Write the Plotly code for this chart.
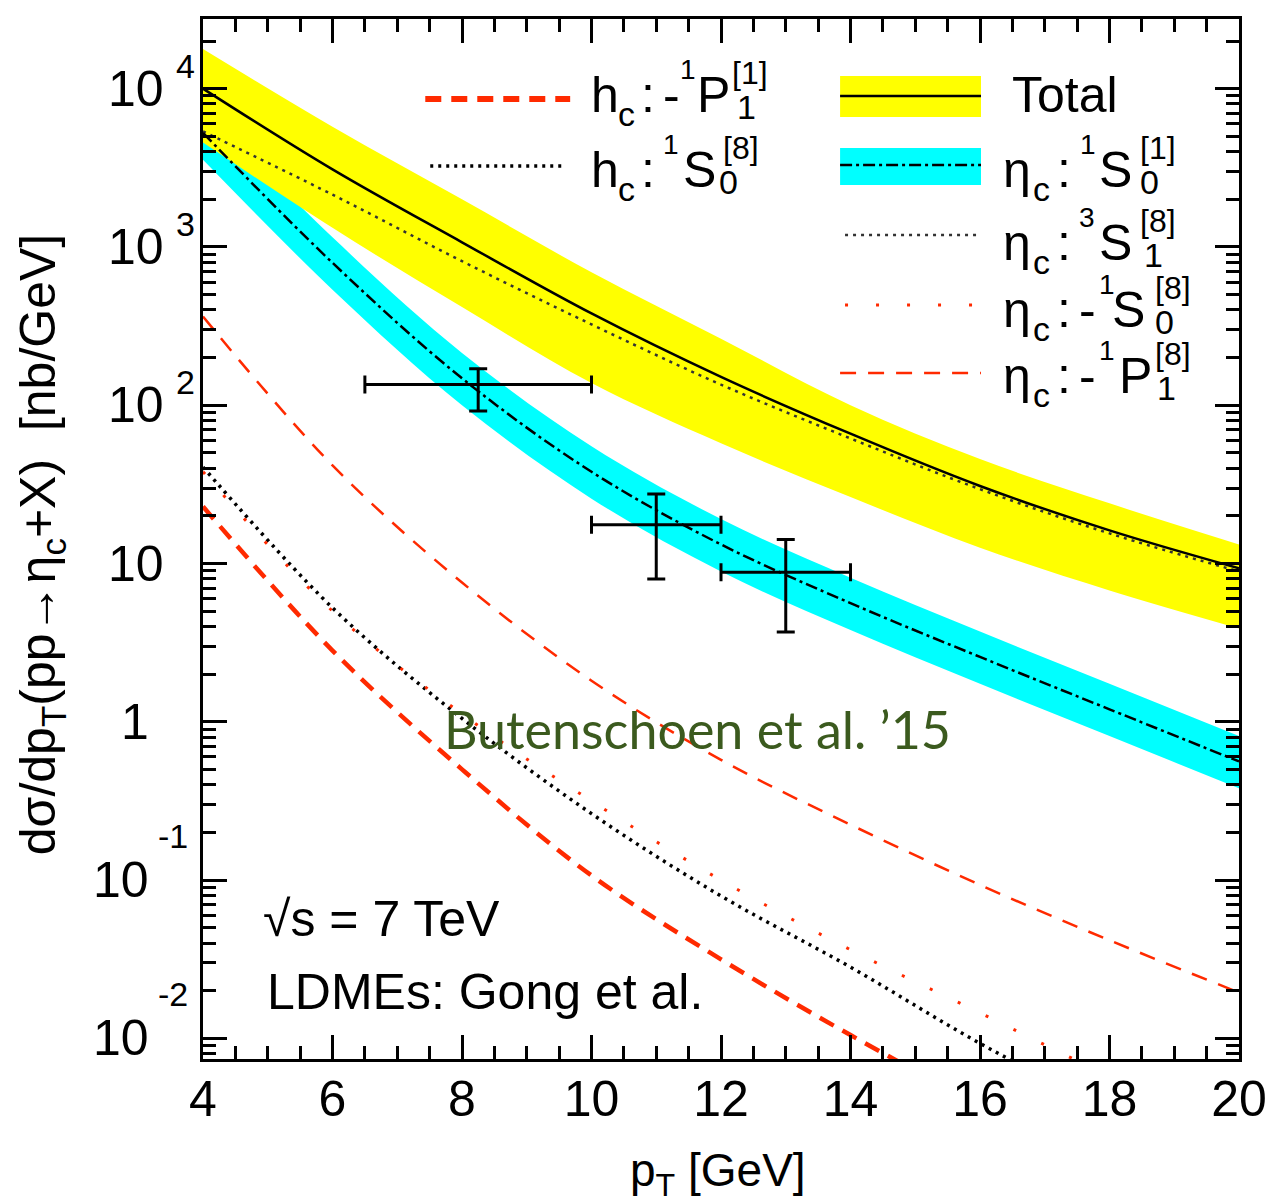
import math
import plotly.graph_objects as go

# ---------------- data ----------------
pt = [4, 6, 8, 10, 12, 14, 16, 18, 20]

total = [10000, 3090, 1070, 380, 151, 66.1, 30.9, 16.2, 9.33]
total_hi = [17800, 5750, 2000, 692, 263, 100, 45.7, 24.0, 13.2]
total_lo = [4570, 1320, 417, 138, 57.5, 26.3, 12.6, 6.76, 3.89]

etac_1s0_1 = [5250, 794, 148, 38.0, 13.2, 5.62, 2.57, 1.20, 0.562]
etac_1s0_1_hi = [7590, 1150, 214, 55.0, 19.1, 8.13, 3.72, 1.74, 0.813]
etac_1s0_1_lo = [3550, 537, 100, 25.7, 8.91, 3.80, 1.74, 0.813, 0.380]

etac_3s1_8 = [5370, 2140, 813, 324, 135, 61.7, 29.5, 15.5, 8.91]
etac_1s0_8_neg = [38.0, 5.01, 1.12, 0.316, 0.100, 0.0363, 0.0145, 0.00575, 0.0024]
etac_1p1_8_neg = [363, 41.7, 7.59, 1.82, 0.575, 0.224, 0.0933, 0.0417, 0.0195]
hc_1p1_1_neg = [22.9, 2.82, 0.501, 0.107, 0.0316, 0.0105, 0.0038, 0.0015, 0.00063]
hc_1s0_8 = [40.7, 5.25, 1.05, 0.263, 0.0794, 0.0282, 0.0093, 0.0035, 0.0014]

data_pt = [8.25, 11.0, 13.0]
data_pt_err = [1.75, 1.0, 1.0]
data_y = [135, 17.6, 8.8]
data_y_up = [35, 9.9, 5.4]
data_y_dn = [43, 9.6, 5.1]

ytick_vals = [1e-2, 1e-1, 1, 10, 1e2, 1e3, 1e4]
ytick_base = ["10", "10", "1", "10", "10", "10", "10"]
ytick_exp = ["-2", "-1", "", "", "2", "3", "4"]
ymin_minor = [m * 10.0 ** e for e in range(-3, 5) for m in range(2, 10)]

# ---------------- style ----------------
W, H = 1279, 1201
L, R, T, B = 203, 32, 19, 142
PW, PH = W - L - R, H - T - B
SANS = "Liberation Sans"
RED = "#ff2a00"
YEL = "#ffff00"
CYA = "#00ffff"


def px(x):
    return (x - L) / PW


def py(y):
    return (H - B - y) / PH


fig = go.Figure()


def band(lo, hi, color):
    fig.add_trace(go.Scatter(x=pt, y=lo, mode="lines", showlegend=False,
                             line=dict(width=0, shape="spline"), hoverinfo="skip"))
    fig.add_trace(go.Scatter(x=pt, y=hi, mode="lines", showlegend=False,
                             line=dict(width=0, shape="spline"), fill="tonexty",
                             fillcolor=color, hoverinfo="skip"))


def curve(y, color, width, dash):
    fig.add_trace(go.Scatter(x=pt, y=y, mode="lines", showlegend=False,
                             line=dict(color=color, width=width, dash=dash,
                                       shape="spline", smoothing=1.0)))


STY = {
    "hc_p1": (RED, 4.5, "16px,10px"),
    "hc_s1": ("black", 3.5, "3px,5px"),
    "et_s0_8": (RED, 3, "3px,28px"),
    "et_p1_8": (RED, 2.5, "16px,12px"),
    "et_s1_8": ("#333333", 2.5, "3px,5px"),
    "et_s0_1": ("black", 2.5, "12px,4px,3px,4px"),
    "total": ("black", 2.5, "solid"),
}

band(etac_1s0_1_lo, etac_1s0_1_hi, CYA)
band(total_lo, total_hi, YEL)
curve(hc_1p1_1_neg, *STY["hc_p1"])
curve(hc_1s0_8, *STY["hc_s1"])
curve(etac_1s0_8_neg, *STY["et_s0_8"])
curve(etac_1p1_8_neg, *STY["et_p1_8"])
curve(etac_3s1_8, *STY["et_s1_8"])
curve(etac_1s0_1, *STY["et_s0_1"])
curve(total, *STY["total"])

fig.add_trace(go.Scatter(
    x=data_pt, y=data_y, mode="markers", showlegend=False,
    marker=dict(size=1, color="black"),
    error_x=dict(type="data", array=data_pt_err, color="black", thickness=3, width=9),
    error_y=dict(type="data", symmetric=False, array=data_y_up, arrayminus=data_y_dn,
                 color="black", thickness=3, width=9)))

axis_common = dict(ticks="inside", ticklen=24, tickwidth=2.5, tickcolor="black",
                   showline=True, linewidth=3, linecolor="black", mirror="allticks",
                   showgrid=False, zeroline=False,
                   tickfont=dict(family=SANS, size=50, color="black"))

fig.update_xaxes(range=[4, 20], dtick=2, tick0=4, ticklabelstandoff=-6,
                 minor=dict(ticks="inside", ticklen=13, tickwidth=2.5, tickcolor="black",
                            dtick=0.5, tick0=4, showgrid=False),
                 **axis_common)
fig.update_yaxes(type="log", range=[-2.13, 4.44], tickmode="array",
                 tickvals=ytick_vals, showticklabels=False,
                 minor=dict(ticks="inside", ticklen=13, tickwidth=2.5, tickcolor="black",
                            tickmode="array", tickvals=ymin_minor, showgrid=False),
                 **axis_common)

# y tick labels in the ROOT style: base and raised exponent
for v, base, ex in zip(ytick_vals, ytick_base, ytick_exp):
    neg = ex.startswith("-")
    right = 150 if (neg or base == "1") else 165
    fig.add_annotation(text=base, xref="paper", yref="y", x=px(right), y=math.log10(v),
                       xanchor="right", yanchor="middle", showarrow=False, borderpad=0,
                       font=dict(family=SANS, size=50, color="black"))
    if ex:
        fig.add_annotation(text=ex, xref="paper", yref="y",
                           x=px(157 if neg else 175), y=math.log10(v),
                           yshift=44 if neg else 23,
                           xanchor="left", yanchor="middle", showarrow=False, borderpad=0,
                           font=dict(family=SANS, size=34, color="black"))

# ---------------- legend (drawn by hand, two columns) ----------------
shapes = []


def sample_line(x0, x1, y, key, width=None):
    c, w, d = STY[key]
    shapes.append(dict(type="line", xref="paper", yref="paper",
                       x0=px(x0), x1=px(x1), y0=py(y), y1=py(y),
                       line=dict(color=c, width=width or w, dash=d)))


def sample_rect(x0, x1, y0, y1, color):
    shapes.append(dict(type="rect", xref="paper", yref="paper",
                       x0=px(x0), x1=px(x1), y0=py(y1), y1=py(y0),
                       line=dict(width=0), fillcolor=color))


sample_line(427, 573, 99, "hc_p1", width=6)
sample_line(432, 568, 166, "hc_s1")
sample_rect(845, 987, 76, 117, YEL)
sample_line(845, 987, 96, "total")
sample_rect(845, 987, 148, 185, CYA)
sample_line(845, 987, 165, "et_s0_1")
sample_line(850, 987, 235, "et_s1_8")
sample_line(850, 987, 305, "et_s0_8")
sample_line(845, 987, 373, "et_p1_8")
fig.update_layout(shapes=shapes)

ASC = {SANS: 0.3465, "Lato": 0.387}


def piece(text, x, baseline, size, color="black", family=SANS):
    fig.add_annotation(text=text, xref="paper", yref="paper",
                       x=px(x - 2), y=py(baseline - ASC[family] * size),
                       xanchor="left", yanchor="middle", showarrow=False, borderpad=0,
                       font=dict(family=family, size=size, color=color))


F, FS, FB, FD = 50, 28, 32, 34  # main, pre-superscript, bracket, sub


def entry(b, parts):
    for kind, txt, x in parts:
        if kind == "m":
            piece(txt, x, b, F)
        elif kind == "c":
            piece(txt, x, b + 14, FD)
        elif kind == "u":
            piece(txt, x, b - 33, FS)
        elif kind == "k":
            piece(txt, x, b - 28, FB)
        elif kind == "d":
            piece(txt, x, b + 7, FD)


entry(112, [("m", "h", 595), ("c", "c", 622), ("m", ":", 645), ("m", "-", 668),
            ("u", "1", 685), ("m", "P", 702), ("k", "[1]", 737), ("d", "1", 742)])
entry(187, [("m", "h", 595), ("c", "c", 622), ("m", ":", 645),
            ("u", "1", 668), ("m", "S", 688), ("k", "[8]", 728), ("d", "0", 724)])
entry(112, [("m", "Total", 1019)])
entry(187, [("m", "η", 1010), ("c", "c", 1040), ("m", ":", 1065),
            ("u", "1", 1088), ("m", "S", 1107), ("k", "[1]", 1148), ("d", "0", 1148)])
entry(260, [("m", "η", 1010), ("c", "c", 1040), ("m", ":", 1065),
            ("u", "3", 1087), ("m", "S", 1107), ("k", "[8]", 1148), ("d", "1", 1152)])
entry(327, [("m", "η", 1010), ("c", "c", 1040), ("m", ":", 1065), ("m", "-", 1087),
            ("u", "1", 1107), ("m", "S", 1120), ("k", "[8]", 1163), ("d", "0", 1163)])
entry(393, [("m", "η", 1010), ("c", "c", 1040), ("m", ":", 1065), ("m", "-", 1087),
            ("u", "1", 1107), ("m", "P", 1127), ("k", "[8]", 1163), ("d", "1", 1165)])

# ---------------- other texts ----------------
piece("√s = 7 TeV", 264, 936, 50)
piece("LDMEs: Gong et al.", 268, 1009, 50)
piece("Butenschoen et al. ’15", 447, 749, 52, color="#3b5a1e", family="Lato")

fig.add_annotation(text="p<sub>T</sub> [GeV]", xref="paper", yref="paper",
                   x=px(722), y=py(1173), xanchor="center", yanchor="middle",
                   showarrow=False, font=dict(family=SANS, size=46, color="black"))
fig.add_annotation(text="dσ/dp<sub>T</sub>(pp→η<sub>c</sub>+X)&nbsp;&nbsp;[nb/GeV]",
                   xref="paper", yref="paper", x=px(40), y=py(545), textangle=-90,
                   xanchor="center", yanchor="middle", showarrow=False,
                   font=dict(family=SANS, size=50, color="black"))

fig.update_layout(width=W, height=H, margin=dict(l=L, r=R, t=T, b=B),
                  paper_bgcolor="white", plot_bgcolor="white", showlegend=False)

fig.write_html("out.html", config={"displayModeBar": False},
               post_script="document.body.style.margin='0';")
